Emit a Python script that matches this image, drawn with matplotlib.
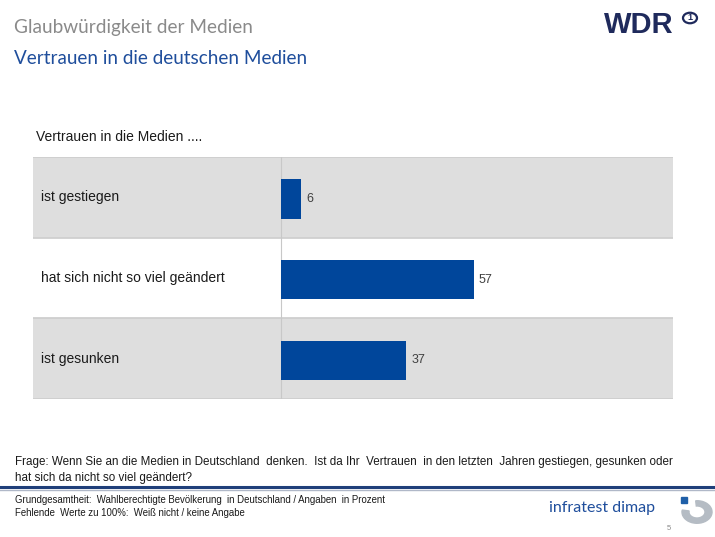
import matplotlib.pyplot as plt
from matplotlib.patches import Rectangle, Circle, Wedge

categories = ['ist gestiegen', 'hat sich nicht so viel geändert', 'ist gesunken']
values = [6, 57, 37]
row_colors = ['#dedede', '#ffffff', '#dedede']

W, H = 715, 537
fig = plt.figure(figsize=(W / 100, H / 100), dpi=100)


def fx(px):
    return px / W


def fy(py):
    return 1 - py / H


# header
fig.text(fx(14), fy(28), 'Glaubwürdigkeit der Medien', fontsize=13.7, color='#8a8a8a',
         family='Lato', va='center')
fig.text(fx(14), fy(58), 'Vertrauen in die deutschen Medien', fontsize=13.6, color='#1f4e9c',
         family='Lato', va='center')
fig.text(fx(604), fy(25), 'WDR', fontsize=21, color='#1f2a5c', family='Liberation Sans',
         weight='bold', va='center', ha='left')
fig.patches.append(Circle((fx(690), fy(18)), 7 / W, transform=fig.transFigure,
                          fill=False, edgecolor='#1f2a5c', lw=1.6))
fig.text(fx(690), fy(18), '1', fontsize=6.5, color='#1f2a5c', weight='bold',
         family='Liberation Sans', ha='center', va='center')

fig.text(fx(36), fy(137), 'Vertrauen in die Medien ....', fontsize=10, family='Liberation Sans',
         va='center', color='#1a1a1a')

# table / bar area
left, right, top, bottom = 33, 673, 157, 399
ax = fig.add_axes([fx(left), fy(bottom), fx(right - left), (bottom - top) / H])
scale = 3.38
ax.set_xlim((left - 281) / scale, (right - 281) / scale)
n = len(categories)
ax.set_ylim(n, 0)
for i, (cat, v) in enumerate(zip(categories, values)):
    ax.axhspan(i, i + 1, color=row_colors[i], zorder=0)
    ax.barh(i + 0.52, v, height=0.49, color='#00469b', zorder=2)
    ax.text(v + 1.5, i + 0.52, str(v), fontsize=9, color='#404040', va='center',
            family='Liberation Sans')
    ax.text((41 - 281) / scale, i + 0.5, cat, fontsize=10, color='#1a1a1a', va='center',
            family='Liberation Sans')
for y in range(n + 1):
    ax.axhline(y, color='#cccccc', lw=1.2, zorder=1)
ax.axvline(0, color='#c8c8c8', lw=0.8, zorder=1)
ax.axis('off')

# footer
fig.text(fx(15), fy(462), 'Frage: Wenn Sie an die Medien in Deutschland  denken.  Ist da Ihr  Vertrauen  in den letzten  Jahren gestiegen, gesunken oder',
         fontsize=8.4, family='Liberation Sans', va='center', color='#1a1a1a')
fig.text(fx(15), fy(478), 'hat sich da nicht so viel geändert?', fontsize=8.4,
         family='Liberation Sans', va='center', color='#1a1a1a')
fig.add_artist(plt.Line2D([0, 1], [fy(487), fy(487)], color='#1f3f7a', lw=2.2))
fig.add_artist(plt.Line2D([0, 1], [fy(490), fy(490)], color='#b0b8c8', lw=1))
fig.text(fx(15), fy(500), 'Grundgesamtheit:  Wahlberechtigte Bevölkerung  in Deutschland / Angaben  in Prozent',
         fontsize=6.9, family='Liberation Sans', va='center', color='#1a1a1a')
fig.text(fx(15), fy(513), 'Fehlende  Werte zu 100%:  Weiß nicht / keine Angabe',
         fontsize=6.9, family='Liberation Sans', va='center', color='#1a1a1a')
fig.text(fx(655), fy(508), 'infratest dimap', fontsize=11.5, color='#1f4e9c',
         family='Lato', ha='right', va='center')
fig.patches.append(Rectangle((fx(681), fy(503)), 6 / W, 6 / H, transform=fig.transFigure,
                             color='#1f5fa8'))
fig.patches.append(Wedge((fx(697), fy(512)), 15 / W, 170, 95, width=7 / W,
                         transform=fig.transFigure, color='#b5bcc4'))
fig.text(fx(669), fy(528), '5', fontsize=5.5, color='#8a8a8a', family='Liberation Sans',
         ha='center', va='center')

fig.savefig('out.png', dpi=100)
